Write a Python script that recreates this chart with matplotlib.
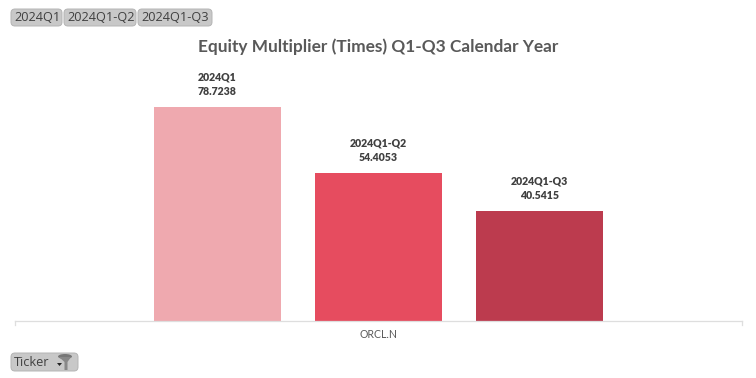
import matplotlib
matplotlib.use("Agg")
import matplotlib.pyplot as plt
from matplotlib.patches import FancyBboxPatch, Polygon, Ellipse

## chart data
ticker = "ORCL.N"
periods = ["2024Q1", "2024Q1-Q2", "2024Q1-Q3"]
values = [78.7238, 54.4053, 40.5415]
colors = ["#EFA9AF", "#E64C5F", "#BC3B4E"]
title = "Equity Multiplier (Times) Q1-Q3 Calendar Year"

W, H = 756, 378
plt.rcParams['font.family'] = ['Lato', 'DejaVu Sans']

fig = plt.figure(figsize=(W / 100, H / 100), dpi=100)

## bars
ax = fig.add_axes([15 / W, 1 - 321 / H, 727 / W, 272 / H])
xs = list(range(len(values)))
ax.bar(xs, values, width=0.789, color=colors)
for x, p, v in zip(xs, periods, values):
    ax.annotate(f"{p}\n{v:.4f}", (x, v), xytext=(0, 10), textcoords="offset pixels",
                ha="center", va="bottom", fontsize=7.6, fontweight="heavy",
                color="#404040", linespacing=1.4)
ax.set_xlim(-1.258, 3.258)
ax.set_ylim(0, 100)
ax.set_yticks([])
ax.set_xticks([1])
ax.set_xticklabels([ticker], fontsize=7.6, color="#595959")
ax.tick_params(axis="x", length=0, pad=6)
for s in ["top", "right", "left"]:
    ax.spines[s].set_visible(False)
ax.spines["bottom"].set_color("#DEDEDE")
ax.spines["bottom"].set_linewidth(0.9)
ax.plot([0, 0], [0, -0.015], transform=ax.transAxes, color="#DEDEDE", lw=0.9, clip_on=False)
ax.plot([1, 1], [0, -0.015], transform=ax.transAxes, color="#DEDEDE", lw=0.9, clip_on=False)

## overlay in pixel coordinates for title and field buttons
ov = fig.add_axes([0, 0, 1, 1])
ov.set_xlim(0, W)
ov.set_ylim(H, 0)
ov.axis("off")
ov.patch.set_alpha(0)

ov.text(378, 46.5, title, ha="center", va="center", fontsize=12.4, fontweight="bold", color="#595959")


def button(x0, x1, y0, y1, label):
    ov.add_patch(FancyBboxPatch((x0 + 3, y0 + 3), x1 - x0 - 6, y1 - y0 - 6,
                                boxstyle="round,pad=3,rounding_size=4",
                                fc="#C8C8C8", ec="#B4B4B4", lw=0.7))
    ov.text(x0 + 3, (y0 + y1) / 2, label, ha="left", va="center", fontsize=9.2,
            family=["Open Sans", "DejaVu Sans"], color="#404040")


button(11, 62, 9, 26, "2024Q1")
button(64, 136, 9, 26, "2024Q1-Q2")
button(138, 212, 9, 26, "2024Q1-Q3")
button(11, 78, 353, 371, "Ticker")

## dropdown arrow and funnel on the Ticker button
ov.add_patch(Polygon([(57, 363), (62, 363), (59.5, 366)], fc="#222222", ec="none"))
ov.add_patch(Ellipse((65, 356.5), 14, 5, fc="#777777", ec="none"))
ov.add_patch(Polygon([(59, 357), (71, 357), (67.5, 362), (67.5, 370), (64.5, 370), (64.5, 362)],
                     fc="#888888", ec="none"))

fig.savefig("out.png", dpi=100)
